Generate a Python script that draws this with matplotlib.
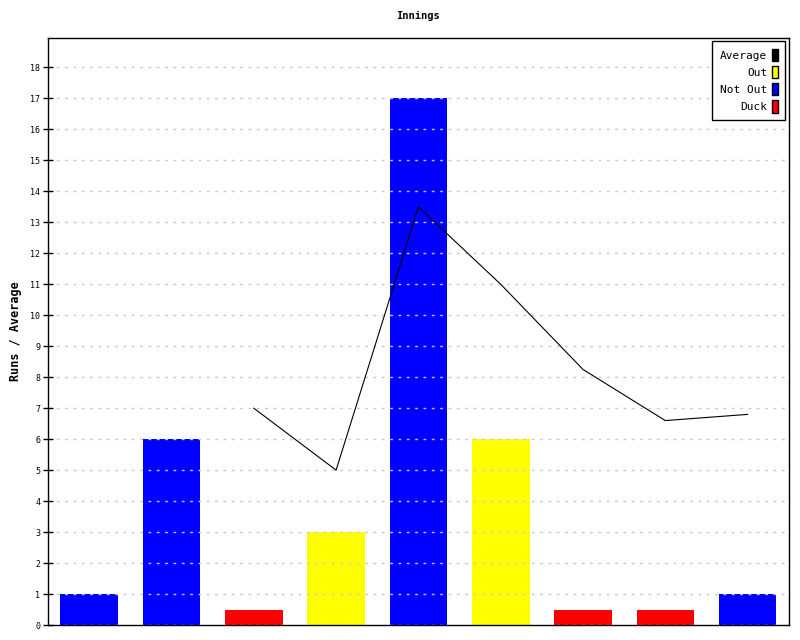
import matplotlib.pyplot as plt
from matplotlib.patches import Patch

runs = [1, 6, 0.5, 3, 17, 6, 0.5, 0.5, 1]
kinds = ['Not Out', 'Not Out', 'Duck', 'Out', 'Not Out', 'Out', 'Duck', 'Duck', 'Not Out']
avg_x = [2, 3, 4, 5, 6, 7, 8]
avg_y = [7, 5, 13.5, 11, 8.25, 6.6, 6.8]
colors = {'Out': '#ffff00', 'Not Out': '#0000ff', 'Duck': '#ff0000'}

plt.rcParams['font.family'] = ['DejaVu Sans Mono']
fig = plt.figure(figsize=(8, 6.4), dpi=100)
ax = fig.add_axes([0.06, 0.0234, 0.926, 0.9172])

xs = list(range(len(runs)))
ax.bar(xs, runs, width=0.7, color=[colors[k] for k in kinds], zorder=1)
ax.plot(avg_x, avg_y, color='black', lw=0.8, zorder=3)

ax.set_xlim(-0.5, len(runs) - 0.5)
ax.set_ylim(0, 18.95)
ax.set_yticks(range(0, 19))
ax.set_xticks([])
ax.yaxis.grid(True, color='#c8c8c8', linestyle=(0, (2, 4)), lw=1, zorder=2)
ax.set_axisbelow(False)
ax.tick_params(axis='y', direction='inout', length=7, width=1, labelsize=6, pad=2)
for s in ax.spines.values():
    s.set_linewidth(1)

ax.set_title('Innings', fontsize=7.5, fontweight='bold', pad=14)
ax.set_ylabel('Runs / Average', fontsize=8.5, fontweight='bold', labelpad=6)

handles = [Patch(facecolor='black', edgecolor='black', label='Average'),
           Patch(facecolor=colors['Out'], edgecolor='black', label='Out'),
           Patch(facecolor=colors['Not Out'], edgecolor='black', label='Not Out'),
           Patch(facecolor=colors['Duck'], edgecolor='black', label='Duck')]
leg = ax.legend(handles=handles, loc='upper right', markerfirst=False, fontsize=8,
                handlelength=0.55, handleheight=1.3, handletextpad=0.4,
                labelspacing=0.45, borderpad=0.7, fancybox=False, framealpha=1,
                edgecolor='black', borderaxespad=0.3)
leg.get_frame().set_linewidth(1)
for t in leg.get_texts():
    t.set_ha('right')

fig.savefig('out.png')
